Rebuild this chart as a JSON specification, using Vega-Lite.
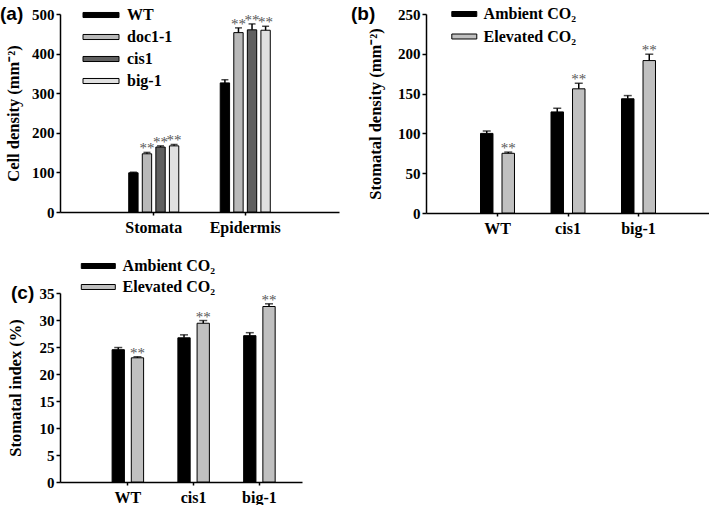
{
  "$schema": "https://vega.github.io/schema/vega-lite/v6.json",
  "background": "white",
  "padding": {"left": 0, "top": 5, "right": 0, "bottom": 0},
  "config": {
    "font": "Liberation Serif",
    "view": {"stroke": null},
    "axis": {
      "domainColor": "black", "domainWidth": 1.5, "tickColor": "black", "tickWidth": 1.5,
      "labelFont": "Liberation Serif", "labelFontWeight": "bold", "labelColor": "black", "labelFontSize": 15,
      "titleFont": "Liberation Serif", "titleFontWeight": "bold", "titleFontSize": 16.5, "titleColor": "black",
      "grid": false, "labelOverlap": false
    },
    "axisY": {"tickSize": 4, "labelPadding": 2},
    "axisX": {"tickSize": 3, "labelPadding": 4, "labelFontSize": 16, "labelAngle": 0},
    "legend": {
      "orient": "none", "title": null, "padding": 0,
      "symbolStrokeColor": "black", "symbolStrokeWidth": 1, "symbolOpacity": 1,
      "labelFont": "Liberation Serif", "labelFontWeight": "bold", "labelFontSize": 16, "labelColor": "black"
    },
    "title": {"font": "Liberation Sans", "fontWeight": "bold", "fontSize": 19, "color": "black"}
  },
  "resolve": {"scale": {"color": "independent", "xOffset": "independent"}, "legend": {"color": "independent"}},
  "bounds": "flush",
  "columns": 2,
  "spacing": {"row": 80, "column": 87},
  "concat": [
    {
      "width": 279, "height": 198,
      "title": {"text": "(a)", "orient": "left", "anchor": "end", "angle": 0, "align": "right", "baseline": "middle", "offset": -41, "frame": "group"},
      "data": {"values": [
        {"tissue": "Stomata", "genotype": "WT", "value": 99, "upper": 100.5, "star": ""},
        {"tissue": "Stomata", "genotype": "doc1-1", "value": 147, "upper": 150.5, "star": "**"},
        {"tissue": "Stomata", "genotype": "cis1", "value": 164, "upper": 167, "star": "**"},
        {"tissue": "Stomata", "genotype": "big-1", "value": 167, "upper": 170.5, "star": "**"},
        {"tissue": "Epidermis", "genotype": "WT", "value": 326, "upper": 334, "star": ""},
        {"tissue": "Epidermis", "genotype": "doc1-1", "value": 453, "upper": 465, "star": "**"},
        {"tissue": "Epidermis", "genotype": "cis1", "value": 460, "upper": 475, "star": "**"},
        {"tissue": "Epidermis", "genotype": "big-1", "value": 459, "upper": 469, "star": "**"}
      ]},
      "encoding": {
        "x": {"field": "tissue", "type": "nominal", "sort": ["Stomata", "Epidermis"],
              "scale": {"paddingInner": 0.453, "paddingOuter": 0.751},
              "axis": {"title": null}},
        "xOffset": {"field": "genotype", "type": "nominal", "sort": ["WT", "doc1-1", "cis1", "big-1"],
                    "scale": {"paddingInner": 0.31, "paddingOuter": 0}}
      },
      "layer": [
        {
          "mark": {"type": "bar", "stroke": "black", "strokeWidth": 1},
          "encoding": {
            "y": {"field": "value", "type": "quantitative",
                  "scale": {"domain": [0, 500], "nice": false},
                  "axis": {"title": "Cell density (mm⁻²)", "values": [0, 100, 200, 300, 400, 500], "titlePadding": 10, "labelOverlap": false}},
            "color": {"field": "genotype", "type": "nominal",
                      "scale": {"domain": ["WT", "doc1-1", "cis1", "big-1"], "range": ["#000000", "#b9b9b9", "#606060", "#e0e0e0"]},
                      "legend": {"legendX": 33, "legendY": -7, "symbolType": "M-3,-0.42L3,-0.42L3,0.42L-3,0.42Z", "symbolSize": 144, "labelOffset": 18, "rowPadding": 6}}
          }
        },
        {
          "mark": {"type": "rule", "color": "black", "strokeWidth": 1.5},
          "encoding": {"y": {"field": "value", "type": "quantitative", "axis": {"values": [0, 100, 200, 300, 400, 500], "labelOverlap": false}}, "y2": {"field": "upper"}}
        },
        {
          "mark": {"type": "tick", "color": "black", "size": 7, "thickness": 1.5},
          "encoding": {"y": {"field": "upper", "type": "quantitative", "axis": {"values": [0, 100, 200, 300, 400, 500], "labelOverlap": false}}}
        },
        {
          "mark": {"type": "text", "baseline": "alphabetic", "dy": 1, "font": "Liberation Serif", "fontSize": 15, "fill": "#585858"},
          "encoding": {"y": {"field": "upper", "type": "quantitative", "axis": {"values": [0, 100, 200, 300, 400, 500], "labelOverlap": false}}, "text": {"field": "star"}}
        }
      ]
    },
    {
      "width": 284, "height": 199,
      "title": {"text": "(b)", "orient": "left", "anchor": "end", "angle": 0, "align": "right", "baseline": "middle", "offset": -32, "frame": "group"},
      "data": {"values": [
        {"geno": "WT", "cond": "Ambient CO₂", "value": 100, "upper": 103, "star": ""},
        {"geno": "WT", "cond": "Elevated CO₂", "value": 75, "upper": 76.5, "star": "**"},
        {"geno": "cis1", "cond": "Ambient CO₂", "value": 127, "upper": 131.5, "star": ""},
        {"geno": "cis1", "cond": "Elevated CO₂", "value": 156, "upper": 163, "star": "**"},
        {"geno": "big-1", "cond": "Ambient CO₂", "value": 143.5, "upper": 147.5, "star": ""},
        {"geno": "big-1", "cond": "Elevated CO₂", "value": 191.5, "upper": 199.5, "star": "**"}
      ]},
      "encoding": {
        "x": {"field": "geno", "type": "nominal", "sort": ["WT", "cis1", "big-1"],
              "scale": {"paddingInner": 0.518, "paddingOuter": 0.773},
              "axis": {"title": null}},
        "xOffset": {"field": "cond", "type": "nominal", "sort": ["Ambient CO₂", "Elevated CO₂"],
                    "scale": {"paddingInner": 0.42, "paddingOuter": 0}}
      },
      "layer": [
        {
          "mark": {"type": "bar", "stroke": "black", "strokeWidth": 1},
          "encoding": {
            "y": {"field": "value", "type": "quantitative",
                  "scale": {"domain": [0, 250], "nice": false},
                  "axis": {"title": "Stomatal density (mm⁻²)", "values": [0, 50, 100, 150, 200, 250], "titlePadding": 14, "labelOverlap": false}},
            "color": {"field": "cond", "type": "nominal",
                      "scale": {"domain": ["Ambient CO₂", "Elevated CO₂"], "range": ["#000000", "#c0c0c0"]},
                      "legend": {"legendX": 30.3, "legendY": -8, "symbolType": "M-3,-0.6L3,-0.6L3,0.6L-3,0.6Z", "symbolSize": 69.4, "labelOffset": 11.3, "rowPadding": 6.5}}
          }
        },
        {
          "mark": {"type": "rule", "color": "black", "strokeWidth": 1.5},
          "encoding": {"y": {"field": "value", "type": "quantitative", "axis": {"values": [0, 50, 100, 150, 200, 250], "labelOverlap": false}}, "y2": {"field": "upper"}}
        },
        {
          "mark": {"type": "tick", "color": "black", "size": 8, "thickness": 1.5},
          "encoding": {"y": {"field": "upper", "type": "quantitative", "axis": {"values": [0, 50, 100, 150, 200, 250], "labelOverlap": false}}}
        },
        {
          "mark": {"type": "text", "baseline": "alphabetic", "dy": 1, "font": "Liberation Serif", "fontSize": 15, "fill": "#585858"},
          "encoding": {"y": {"field": "upper", "type": "quantitative", "axis": {"values": [0, 50, 100, 150, 200, 250], "labelOverlap": false}}, "text": {"field": "star"}}
        }
      ]
    },
    {
      "width": 242, "height": 189,
      "title": {"text": "(c)", "orient": "left", "anchor": "end", "angle": 0, "align": "right", "baseline": "middle", "offset": -50.5, "frame": "group"},
      "data": {"values": [
        {"geno": "WT", "cond": "Ambient CO₂", "value": 24.5, "upper": 24.9, "star": ""},
        {"geno": "WT", "cond": "Elevated CO₂", "value": 23.0, "upper": 23.2, "star": "**"},
        {"geno": "cis1", "cond": "Ambient CO₂", "value": 26.7, "upper": 27.25, "star": ""},
        {"geno": "cis1", "cond": "Elevated CO₂", "value": 29.4, "upper": 29.9, "star": "**"},
        {"geno": "big-1", "cond": "Ambient CO₂", "value": 27.1, "upper": 27.65, "star": ""},
        {"geno": "big-1", "cond": "Elevated CO₂", "value": 32.5, "upper": 33.0, "star": "**"}
      ]},
      "encoding": {
        "x": {"field": "geno", "type": "nominal", "sort": ["WT", "cis1", "big-1"],
              "scale": {"paddingInner": 0.521, "paddingOuter": 0.6, "align": 0.66},
              "axis": {"title": null}},
        "xOffset": {"field": "cond", "type": "nominal", "sort": ["Ambient CO₂", "Elevated CO₂"],
                    "scale": {"paddingInner": 0.36, "paddingOuter": 0}}
      },
      "layer": [
        {
          "mark": {"type": "bar", "stroke": "black", "strokeWidth": 1},
          "encoding": {
            "y": {"field": "value", "type": "quantitative",
                  "scale": {"domain": [0, 35], "nice": false},
                  "axis": {"title": "Stomatal index (%)", "values": [0, 5, 10, 15, 20, 25, 30, 35], "titlePadding": 16, "labelOverlap": false}},
            "color": {"field": "cond", "type": "nominal",
                      "scale": {"domain": ["Ambient CO₂", "Elevated CO₂"], "range": ["#000000", "#c0c0c0"]},
                      "legend": {"legendX": 30.3, "legendY": -35, "symbolType": "M-3,-0.44L3,-0.44L3,0.44L-3,0.44Z", "symbolSize": 128.4, "labelOffset": 16.3, "rowPadding": 5}}
          }
        },
        {
          "mark": {"type": "rule", "color": "black", "strokeWidth": 1.5},
          "encoding": {"y": {"field": "value", "type": "quantitative", "axis": {"values": [0, 5, 10, 15, 20, 25, 30, 35], "labelOverlap": false}}, "y2": {"field": "upper"}}
        },
        {
          "mark": {"type": "tick", "color": "black", "size": 8, "thickness": 1.5},
          "encoding": {"y": {"field": "upper", "type": "quantitative", "axis": {"values": [0, 5, 10, 15, 20, 25, 30, 35], "labelOverlap": false}}}
        },
        {
          "mark": {"type": "text", "baseline": "alphabetic", "dy": 1, "font": "Liberation Serif", "fontSize": 15, "fill": "#585858"},
          "encoding": {"y": {"field": "upper", "type": "quantitative", "axis": {"values": [0, 5, 10, 15, 20, 25, 30, 35], "labelOverlap": false}}, "text": {"field": "star"}}
        }
      ]
    }
  ]
}
